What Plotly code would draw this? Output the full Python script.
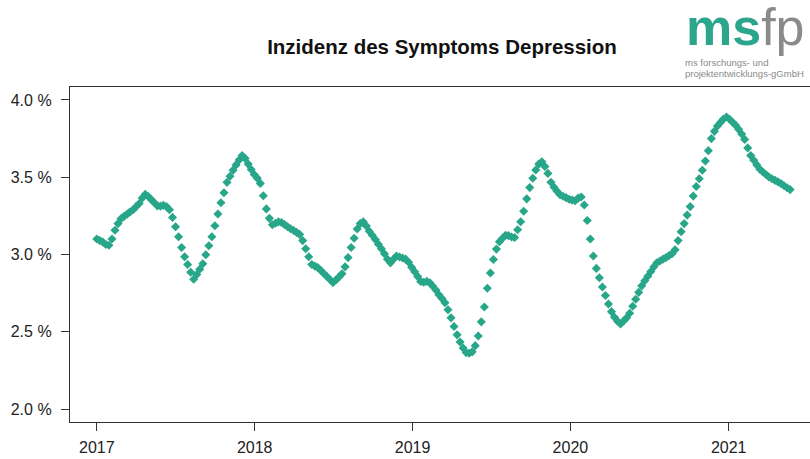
import pandas as pd
import plotly.graph_objects as go

# weekly incidence (%), starting 2017-01-01
incidence = [
    3.10, 3.09, 3.08, 3.065, 3.06, 3.10, 3.157, 3.20, 3.232, 3.247,
    3.261, 3.276, 3.29, 3.31, 3.33, 3.365, 3.39, 3.375, 3.355, 3.335,
    3.315, 3.313, 3.318, 3.31, 3.29, 3.24, 3.18, 3.115, 3.045, 2.985,
    2.935, 2.885, 2.84, 2.87, 2.905, 2.94, 2.998, 3.057, 3.115, 3.186,
    3.262, 3.335, 3.40, 3.467, 3.506, 3.546, 3.58, 3.612, 3.64, 3.622,
    3.585, 3.55, 3.518, 3.494, 3.46, 3.38, 3.295, 3.234, 3.193, 3.202,
    3.211, 3.207, 3.194, 3.18, 3.167, 3.155, 3.143, 3.13, 3.09, 3.037,
    2.985, 2.935, 2.925, 2.915, 2.897, 2.877, 2.858, 2.838, 2.818, 2.835,
    2.855, 2.875, 2.92, 2.98, 3.045, 3.105, 3.165, 3.20, 3.212, 3.185,
    3.15, 3.125, 3.097, 3.067, 3.037, 3.005, 2.97, 2.946, 2.97, 2.99,
    2.984, 2.977, 2.97, 2.95, 2.917, 2.888, 2.857, 2.826, 2.82, 2.826,
    2.817, 2.795, 2.77, 2.74, 2.715, 2.688, 2.642, 2.59, 2.534, 2.48,
    2.434, 2.395, 2.365, 2.361, 2.37, 2.41, 2.473, 2.564, 2.66, 2.782,
    2.88, 2.968, 3.035, 3.083, 3.105, 3.125, 3.122, 3.113, 3.11, 3.16,
    3.212, 3.28, 3.36, 3.433, 3.493, 3.547, 3.585, 3.60, 3.57, 3.525,
    3.468, 3.436, 3.41, 3.387, 3.377, 3.368, 3.358, 3.352, 3.348, 3.365,
    3.372, 3.32, 3.22, 3.10, 2.99, 2.91, 2.85, 2.79, 2.735, 2.68,
    2.63, 2.594, 2.568, 2.55, 2.57, 2.59, 2.62, 2.665, 2.71, 2.755,
    2.797, 2.83, 2.86, 2.89, 2.92, 2.947, 2.958, 2.97, 2.98, 2.993,
    3.005, 3.03, 3.09, 3.148, 3.20, 3.255, 3.31, 3.378, 3.44, 3.49,
    3.545, 3.605, 3.672, 3.75, 3.797, 3.832, 3.855, 3.877, 3.89, 3.875,
    3.856, 3.837, 3.81, 3.78, 3.745, 3.69, 3.64, 3.61, 3.58, 3.552,
    3.534, 3.518, 3.502, 3.49, 3.48, 3.47, 3.459, 3.445, 3.432, 3.42,
]
weeks = pd.date_range("2017-01-01", periods=len(incidence), freq="7D")

x_tickvals = ["2017-01-01", "2018-01-01", "2019-01-01", "2020-01-01", "2021-01-01"]
x_ticktext = ["2017", "2018", "2019", "2020", "2021"]
y_tickvals = [2.0, 2.5, 3.0, 3.5, 4.0]
y_ticktext = ["2.0 %", "2.5 %", "3.0 %", "3.5 %", "4.0 %"]

teal = "#28A68A"
font = "Liberation Sans, Arial, sans-serif"

fig = go.Figure(go.Scatter(
    x=weeks, y=incidence, mode="markers",
    marker=dict(symbol="diamond", size=7, color=teal, line=dict(width=0)),
    showlegend=False, hoverinfo="x+y",
))

fig.update_layout(
    width=810, height=459,
    margin=dict(l=70, r=0, t=87, b=37, autoexpand=False),
    paper_bgcolor="white", plot_bgcolor="white",
    font=dict(family=font, color="#222"),
    title=dict(text="<b>Inzidenz des Symptoms Depression</b>",
               x=442 / 810, xanchor="center", y=1 - 47 / 459, yanchor="middle",
               font=dict(size=20.5, color="#111", family=font)),
)
fig.update_xaxes(
    type="date", range=["2016-10-31", "2021-07-08"], automargin=False,
    tickvals=x_tickvals, ticktext=x_ticktext,
    ticks="outside", ticklen=8, tickcolor="#333", tickwidth=1,
    showline=True, mirror=True, linecolor="#333", linewidth=1.3,
    showgrid=False, zeroline=False,
    tickfont=dict(size=16, color="#222"), ticklabelstandoff=3,
)
fig.update_yaxes(
    range=[1.916, 4.084], automargin=False,
    tickvals=y_tickvals, ticktext=y_ticktext,
    ticks="outside", ticklen=8, tickcolor="#333", tickwidth=1,
    showline=True, mirror=False, linecolor="#333", linewidth=1.3,
    showgrid=False, zeroline=False,
    tickfont=dict(size=16, color="#222"), ticklabelstandoff=6,
)

# logo (partly cut off at the right edge, as in the reference)
fig.add_annotation(
    xref="paper", yref="paper", x=(684 - 70) / 740, y=1 + (87 - 58) / 335,
    xanchor="left", yanchor="bottom", showarrow=False,
    text="<b><span style='color:#2BA58C'>ms</span></b><span style='color:#8a8a8a'>fp</span>",
    font=dict(size=52, family=font),
)
fig.add_annotation(
    xref="paper", yref="paper", x=(683 - 70) / 740, y=1 + (87 - 63) / 335,
    xanchor="left", yanchor="middle", showarrow=False,
    text="ms forschungs- und", font=dict(size=9.5, color="#8a8a8a", family=font),
)
fig.add_annotation(
    xref="paper", yref="paper", x=(683 - 70) / 740, y=1 + (87 - 74) / 335,
    xanchor="left", yanchor="middle", showarrow=False,
    text="projektentwicklungs-gGmbH", font=dict(size=9.5, color="#8a8a8a", family=font),
)

fig.write_html("out.html", config={"displayModeBar": False},
               post_script="document.body.style.margin='0';")
